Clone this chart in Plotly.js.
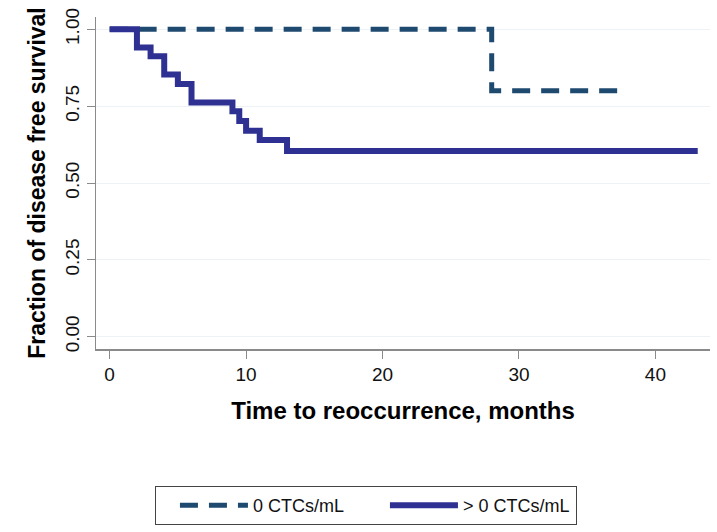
<!DOCTYPE html>
<html>
<head>
<meta charset="utf-8">
<script src="https://cdn.plot.ly/plotly-3.0.1.min.js"></script>
<style>
  html, body { margin: 0; padding: 0; background: #ffffff; }
  #chart { width: 717px; height: 532px; }
</style>
</head>
<body>
<div id="chart"></div>
<script>
// Kaplan-Meier step data
const seriesNames = ["0 CTCs/mL", "> 0 CTCs/mL"];
const monthsZero = [0, 28, 37.3];
const survivalZero = [1.0, 0.80, 0.80];
const monthsPositive = [0, 2, 3, 4, 5, 6, 9, 9.5, 10, 11, 13, 43.1];
const survivalPositive = [1.0, 0.941, 0.912, 0.853, 0.822, 0.762, 0.733, 0.702, 0.670, 0.640, 0.604, 0.604];
const xTicks = [0, 10, 20, 30, 40];
const yTicks = [0, 0.25, 0.5, 0.75, 1.0];
const yTickLabels = ["0.00", "0.25", "0.50", "0.75", "1.00"];

const FONT = "Liberation Sans, Arial, sans-serif";

const traces = [
  {
    x: monthsZero, y: survivalZero, name: seriesNames[0],
    type: "scatter", mode: "lines",
    line: { shape: "hv", color: "#1f4a70", width: 5, dash: "18px,11px" }
  },
  {
    x: monthsPositive, y: survivalPositive, name: seriesNames[1],
    type: "scatter", mode: "lines",
    line: { shape: "hv", color: "#2e3192", width: 6 }
  }
];

const layout = {
  width: 717, height: 532,
  margin: { l: 96, r: 7, t: 17, b: 183, autoexpand: false },
  paper_bgcolor: "#ffffff", plot_bgcolor: "#ffffff",
  font: { family: FONT, color: "#111111" },
  showlegend: true,
  legend: {
    orientation: "h",
    x: 0.096, xanchor: "left",
    y: -0.4127, yanchor: "top",
    bordercolor: "#444444", borderwidth: 1,
    font: { family: FONT, size: 18, color: "#111111" },
    itemwidth: 68,
    entrywidth: 108,
    indentation: 19,
    traceorder: "normal"
  },
  xaxis: {
    range: [-1, 44],
    tickmode: "array", tickvals: xTicks, ticktext: xTicks.map(String),
    ticks: "outside", ticklen: 8, tickwidth: 1, tickcolor: "#8a8a8a",
    showline: true, linecolor: "#8a8a8a", linewidth: 1.5,
    showgrid: false, zeroline: false,
    tickfont: { family: FONT, size: 19, color: "#111111" },
    title: { text: "Time to reoccurrence, months", font: { family: FONT, size: 24, color: "#000000", weight: "bold" }, standoff: 18 }
  },
  yaxis: {
    range: [-0.04, 1.04],
    tickmode: "array", tickvals: yTicks, ticktext: yTickLabels,
    tickangle: -90,
    ticks: "outside", ticklen: 8, tickwidth: 1, tickcolor: "#8a8a8a",
    showline: true, linecolor: "#8a8a8a", linewidth: 1.5,
    showgrid: true, gridcolor: "#edf2f7", gridwidth: 1,
    zeroline: false,
    tickfont: { family: FONT, size: 19, color: "#111111" },
    title: { text: "Fraction of disease free survival", font: { family: FONT, size: 23, color: "#000000", weight: "bold" }, standoff: 10 }
  }
};

Plotly.newPlot("chart", traces, layout, { displayModeBar: false, staticPlot: true });
</script>
</body>
</html>
